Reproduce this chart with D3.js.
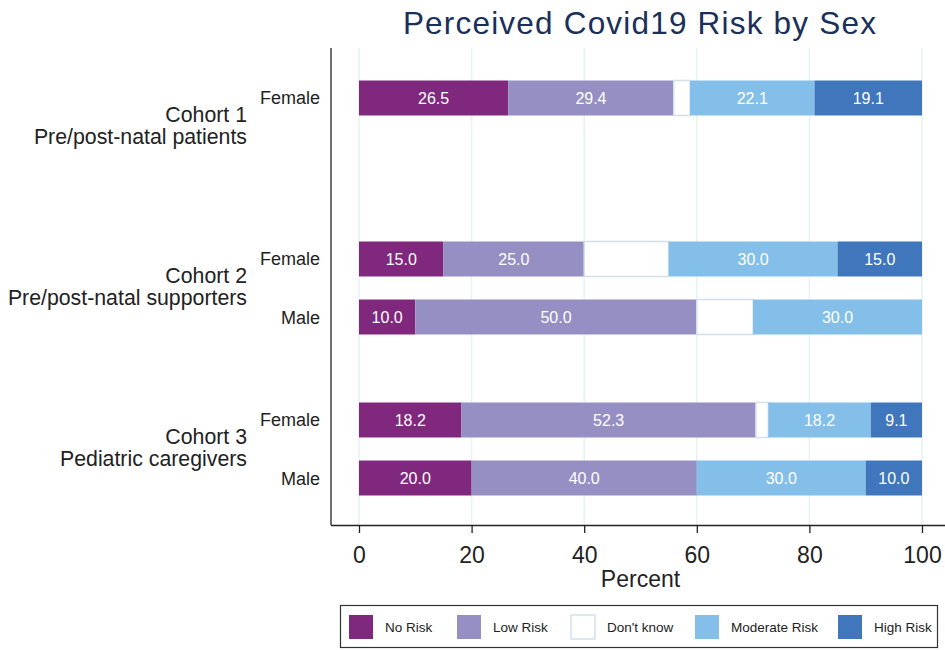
<!DOCTYPE html>
<html>
<head>
<meta charset="utf-8">
<script src="https://cdn.jsdelivr.net/npm/d3@7"></script>
<style>
  body { margin: 0; background: #fff; }
  svg { font-family: "Liberation Sans", Arial, sans-serif; }
</style>
</head>
<body>
<svg width="945" height="650"></svg>
<script>
// categories
var cohorts = ["Cohort 1", "Cohort 2", "Cohort 3"];
var cohortSub = ["Pre/post-natal patients", "Pre/post-natal supporters", "Pediatric caregivers"];
var sexes = ["Female", "Male"];
var risks = ["No Risk", "Low Risk", "Don't know", "Moderate Risk", "High Risk"];
var riskColors = ["#7f287d", "#958fc4", "#ffffff", "#84bfea", "#3f76bc"];
var xTicks = [0, 20, 40, 60, 80, 100];

// percentages per row, in risk order
var rows = [
  {cohort: "Cohort 1", sex: "Female", values: [26.5, 29.4, 2.9, 22.1, 19.1]},
  {cohort: "Cohort 2", sex: "Female", values: [15.0, 25.0, 15.0, 30.0, 15.0]},
  {cohort: "Cohort 2", sex: "Male",   values: [10.0, 50.0, 10.0, 30.0, 0]},
  {cohort: "Cohort 3", sex: "Female", values: [18.2, 52.3, 2.2, 18.2, 9.1]},
  {cohort: "Cohort 3", sex: "Male",   values: [20.0, 40.0, 0, 30.0, 10.0]}
];

var svg = d3.select("svg");
var plotTop = 48, plotBottom = 525, axisX = 331;

var x = d3.scaleLinear().domain([0, 100]).range([359, 922]);
var yGroup = d3.scalePoint().domain(cohorts).range([127, 449]);
var ySex = d3.scaleBand().domain(sexes).range([-46.5, 46.5]).paddingInner(0.397);
var color = d3.scaleOrdinal().domain(risks).range(riskColors);

// gridlines
svg.append("g").selectAll("line").data(xTicks).join("line")
  .attr("x1", d => x(d)).attr("x2", d => x(d))
  .attr("y1", plotTop).attr("y2", plotBottom)
  .attr("stroke", "#e8f1f3").attr("stroke-width", 1.5);

// title
svg.append("text").attr("x", 640).attr("y", 34)
  .attr("text-anchor", "middle").attr("font-size", 31.5).attr("letter-spacing", 1.2)
  .attr("fill", "#1a2f5a").text("Perceived Covid19 Risk by Sex");

// bars
rows.forEach(function(r) {
  var y0 = yGroup(r.cohort) + ySex(r.sex);
  var cum = 0;
  var segs = r.values.map(function(v, i) {
    var s = {start: cum, value: v, risk: risks[i]};
    cum += v;
    return s;
  }).filter(s => s.value > 0);
  var g = svg.append("g");
  g.selectAll("rect").data(segs).join("rect")
    .attr("x", d => x(d.start)).attr("y", y0)
    .attr("width", d => x(d.start + d.value) - x(d.start))
    .attr("height", ySex.bandwidth())
    .attr("fill", d => color(d.risk))
    .attr("stroke", d => d.risk === "Don't know" ? "#d3e0ea" : "none")
    .attr("stroke-width", 1.5);
  g.selectAll("text").data(segs.filter(d => d.risk !== "Don't know")).join("text")
    .attr("x", d => x(d.start + d.value / 2))
    .attr("y", y0 + ySex.bandwidth() / 2 + 6)
    .attr("text-anchor", "middle").attr("font-size", 16)
    .attr("fill", "#fff").text(d => d.value.toFixed(1));
  svg.append("text").attr("x", 320).attr("y", y0 + ySex.bandwidth() / 2 + 6.5)
    .attr("text-anchor", "end").attr("font-size", 18).attr("fill", "#222")
    .text(r.sex);
});

// cohort labels
cohorts.forEach(function(c, i) {
  var t = svg.append("text").attr("text-anchor", "end").attr("font-size", 21.3).attr("fill", "#222");
  t.append("tspan").attr("x", 247).attr("y", yGroup(c) - 5).text(c);
  t.append("tspan").attr("x", 247).attr("y", yGroup(c) + 17).text(cohortSub[i]);
});

// left axis line
svg.append("line").attr("x1", axisX).attr("x2", axisX)
  .attr("y1", plotTop).attr("y2", plotBottom)
  .attr("stroke", "#222").attr("stroke-width", 1.3);

// x axis
var xAxis = svg.append("g").attr("transform", "translate(0," + plotBottom + ")")
  .call(d3.axisBottom(x).tickValues(xTicks).tickSize(8).tickSizeOuter(0));
xAxis.select(".domain").attr("d", "M" + axisX + ",0.5H945").attr("stroke", "#222").attr("stroke-width", 1.3);
xAxis.selectAll(".tick line").attr("stroke", "#222").attr("stroke-width", 1.3);
xAxis.selectAll(".tick text").attr("y", 37.5).attr("dy", null)
  .attr("font-size", 23).attr("fill", "#222")
  .attr("font-family", "'Liberation Sans', Arial, sans-serif");

svg.append("text").attr("x", x(50)).attr("y", 586.5)
  .attr("text-anchor", "middle").attr("font-size", 23).attr("fill", "#222").text("Percent");

// legend
svg.append("rect").attr("x", 340.5).attr("y", 605.5).attr("width", 597).attr("height", 42)
  .attr("fill", "#fff").attr("stroke", "#333").attr("stroke-width", 1.2);
var legendX = [349, 457, 571, 695, 838];
var lg = svg.append("g").selectAll("g").data(risks).join("g")
  .attr("transform", (d, i) => "translate(" + legendX[i] + ",615)");
lg.append("rect").attr("width", 24).attr("height", 24)
  .attr("fill", d => color(d))
  .attr("stroke", d => d === "Don't know" ? "#d3e0ea" : "none").attr("stroke-width", 1.5);
lg.append("text").attr("x", 36).attr("y", 16.5)
  .attr("font-size", 13.5).attr("fill", "#222").text(d => d);
</script>
</body>
</html>
